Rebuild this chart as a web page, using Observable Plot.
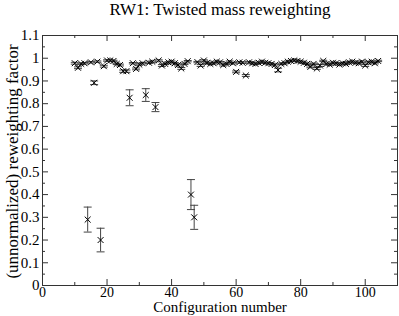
<!DOCTYPE html>
<html>
<head>
<meta charset="utf-8">
<script src="https://cdn.jsdelivr.net/npm/d3@7"></script>
<script src="https://cdn.jsdelivr.net/npm/@observablehq/plot@0.6"></script>
<style>
  html, body { margin: 0; padding: 0; background: white; }
</style>
</head>
<body>
<div id="chart"></div>
<script>
const title = "RW1: Twisted mass reweighting";
const xLabel = "Configuration number";
const yLabel = "(unnormalized) reweighting factor";

const configs = [
  10, 11, 12, 13, 14, 15, 16, 17, 18, 19,
  20, 21, 22, 23, 24, 25, 26, 27, 28, 29,
  30, 31, 32, 33, 34, 35, 36, 37, 38, 39,
  40, 41, 42, 43, 44, 45, 46, 47, 48, 49,
  50, 51, 52, 53, 54, 55, 56, 57, 58, 59,
  60, 61, 62, 63, 64, 65, 66, 67, 68, 69,
  70, 71, 72, 73, 74, 75, 76, 77, 78, 79,
  80, 81, 82, 83, 84, 85, 86, 87, 88, 89,
  90, 91, 92, 93, 94, 95, 96, 97, 98, 99,
  100, 101, 102, 103, 104
];
const factors = [
  0.978, 0.958, 0.975, 0.978, 0.290, 0.982, 0.892, 0.985, 0.200, 0.965,
  0.990, 0.990, 0.988, 0.975, 0.970, 0.943, 0.943, 0.826, 0.978, 0.953,
  0.972, 0.978, 0.838, 0.980, 0.985, 0.785, 0.990, 0.968, 0.975, 0.982,
  0.985, 0.978, 0.970, 0.955, 0.975, 0.987, 0.400, 0.300, 0.983, 0.968,
  0.990, 0.980, 0.975, 0.978, 0.985, 0.982, 0.970, 0.975, 0.985, 0.978,
  0.940, 0.982, 0.980, 0.924, 0.982, 0.978, 0.975, 0.980, 0.985, 0.980,
  0.978, 0.975, 0.970, 0.948, 0.975, 0.978, 0.985, 0.988, 0.990, 0.988,
  0.985, 0.980, 0.975, 0.962, 0.975, 0.955, 0.968, 0.988, 0.975, 0.972,
  0.980, 0.978, 0.972, 0.978, 0.975, 0.982, 0.985, 0.980, 0.978, 0.985,
  0.968, 0.982, 0.985, 0.978, 0.988
];
const errors = [
  0.004, 0.004, 0.003, 0.003, 0.055, 0.003, 0.008, 0.003, 0.052, 0.004,
  0.003, 0.003, 0.003, 0.003, 0.004, 0.005, 0.005, 0.035, 0.003, 0.004,
  0.003, 0.003, 0.028, 0.003, 0.003, 0.020, 0.003, 0.004, 0.003, 0.003,
  0.003, 0.003, 0.004, 0.004, 0.003, 0.003, 0.066, 0.053, 0.003, 0.004,
  0.003, 0.003, 0.003, 0.003, 0.003, 0.003, 0.004, 0.003, 0.003, 0.003,
  0.004, 0.003, 0.003, 0.004, 0.003, 0.003, 0.003, 0.003, 0.003, 0.003,
  0.003, 0.003, 0.004, 0.008, 0.003, 0.003, 0.003, 0.003, 0.003, 0.003,
  0.003, 0.003, 0.003, 0.004, 0.003, 0.004, 0.004, 0.003, 0.003, 0.003,
  0.003, 0.003, 0.003, 0.003, 0.003, 0.003, 0.003, 0.003, 0.003, 0.003,
  0.004, 0.003, 0.003, 0.003, 0.003
];

const xTickLabels = [0, 20, 40, 60, 80, 100];
const xMinorTicks = [10, 30, 50, 70, 90];
const yTickLabels = [0, 0.1, 0.2, 0.3, 0.4, 0.5, 0.6, 0.7, 0.8, 0.9, 1, 1.1];
const yMinorTicks = [0.05, 0.15, 0.25, 0.35, 0.45, 0.55, 0.65, 0.75, 0.85, 0.95, 1.05];

const data = configs.map((c, i) => ({
  x: c, y: factors[i], lo: factors[i] - errors[i], hi: factors[i] + errors[i]
}));

const W = 399, H = 316;
const mT = 35, mB = 31, mL = 42, mR = 2;
const fw = W - mL - mR, fh = H - mT - mB;
const majorLen = 6, minorLen = 3;
const axisColor = "#333";
const serif = "Liberation Serif";

const capSymbol = {
  draw(context, size) {
    const w = Math.sqrt(size / Math.PI);
    context.moveTo(-w, 0);
    context.lineTo(w, 0);
  }
};

const chart = Plot.plot({
  width: W,
  height: H,
  marginTop: mT,
  marginBottom: mB,
  marginLeft: mL,
  marginRight: mR,
  style: { fontFamily: serif, fontSize: "14px", background: "white", color: "black" },
  x: { domain: [0, 110] },
  y: { domain: [0, 1.1] },
  marks: [
    Plot.tickX(xTickLabels, { x: d => d, insetTop: fh - majorLen, stroke: axisColor }),
    Plot.tickX(xMinorTicks, { x: d => d, insetTop: fh - minorLen, stroke: axisColor }),
    Plot.tickX(xTickLabels, { x: d => d, insetBottom: fh - majorLen, stroke: axisColor }),
    Plot.tickX(xMinorTicks, { x: d => d, insetBottom: fh - minorLen, stroke: axisColor }),
    Plot.tickY(yTickLabels, { y: d => d, insetRight: fw - majorLen, stroke: axisColor }),
    Plot.tickY(yMinorTicks, { y: d => d, insetRight: fw - minorLen, stroke: axisColor }),
    Plot.tickY(yTickLabels, { y: d => d, insetLeft: fw - majorLen, stroke: axisColor }),
    Plot.tickY(yMinorTicks, { y: d => d, insetLeft: fw - minorLen, stroke: axisColor }),
    Plot.frame({ stroke: axisColor }),
    Plot.axisX(xTickLabels, { tickSize: 0, tickPadding: 2, label: null, tickFormat: d => String(d), fontSize: 14, fontFamily: serif, fill: "black" }),
    Plot.axisY(yTickLabels, { tickSize: 0, tickPadding: 3, label: null, tickFormat: d => String(d), fontSize: 15, fontFamily: serif, fill: "black" }),
    Plot.ruleX(data, { x: "x", y1: "lo", y2: "hi", stroke: "#444", strokeWidth: 1 }),
    Plot.dot(data, { x: "x", y: "lo", symbol: capSymbol, r: 4, stroke: "#444", strokeWidth: 1 }),
    Plot.dot(data, { x: "x", y: "hi", symbol: capSymbol, r: 4, stroke: "#444", strokeWidth: 1 }),
    Plot.dot(data, { x: "x", y: "y", symbol: "times", r: 2.8, stroke: "black", strokeWidth: 1 }),
    Plot.text([title], { frameAnchor: "top", textAnchor: "middle", lineAnchor: "middle", dy: -26, fontSize: 17, fontFamily: serif, fill: "black" }),
    Plot.text([xLabel], { frameAnchor: "bottom", textAnchor: "middle", lineAnchor: "middle", dy: 22, fontSize: 15, fontFamily: serif, fill: "black" }),
    Plot.text([yLabel], { frameAnchor: "left", textAnchor: "middle", lineAnchor: "middle", rotate: -90, dx: -30, dy: 1, fontSize: 17, fontFamily: serif, fill: "black" })
  ]
});

document.getElementById("chart").appendChild(chart);
</script>
</body>
</html>
